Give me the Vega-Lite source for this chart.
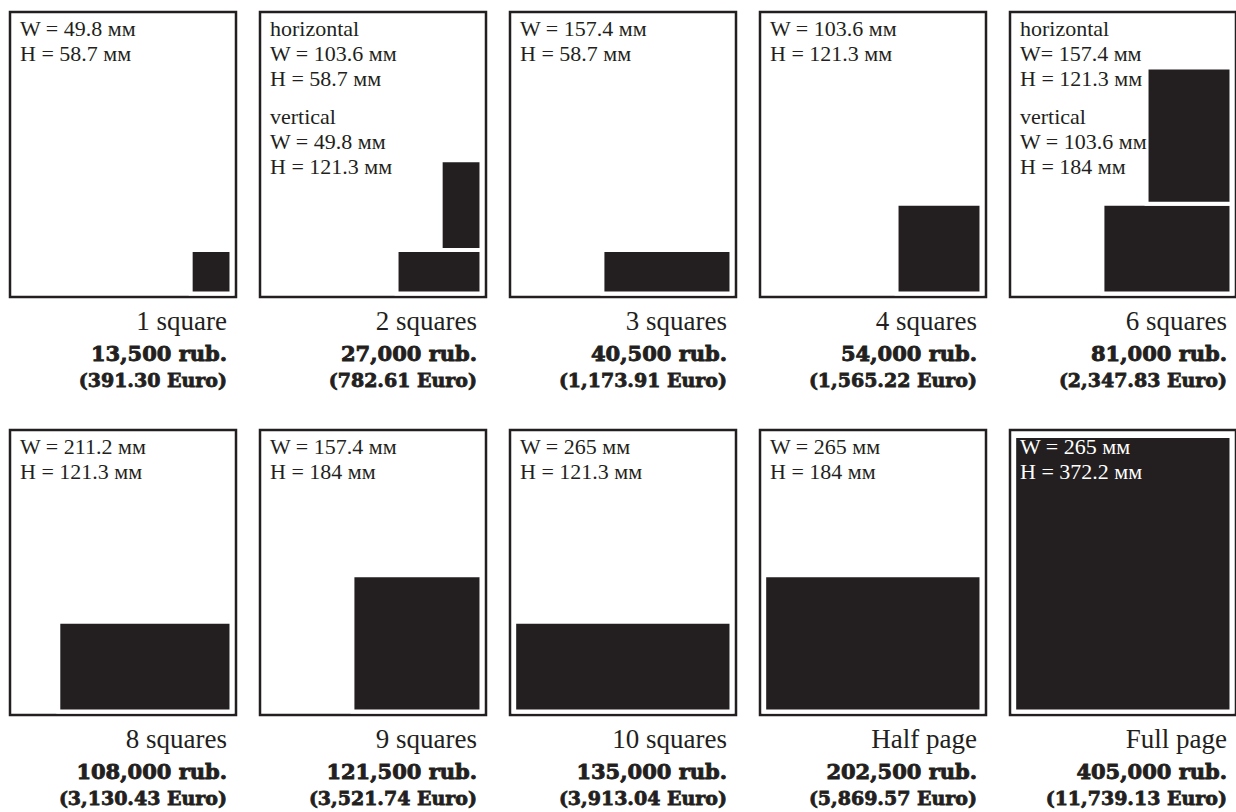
{
  "$schema": "https://vega.github.io/schema/vega-lite/v6.json",
  "padding": {"left": 8, "top": 10, "right": 0, "bottom": 0},
  "autosize": {"type": "pad"},
  "background": "white",
  "bounds": "flush",
  "spacing": {"column": 24, "row": 133},
  "columns": 5,
  "data": {"values": [
    {"panel": 1, "order": 1, "W": 49.8, "H": 58.7, "caption": "W = 49.8 мм\nH = 58.7 мм", "name": "1 square", "rub": "13,500 rub.", "euro": "(391.30 Euro)"},
    {"panel": 2, "order": 1, "W": 103.6, "H": 58.7, "caption": "horizontal\nW = 103.6 мм\nH = 58.7 мм", "name": "2 squares", "rub": "27,000 rub.", "euro": "(782.61 Euro)"},
    {"panel": 2, "order": 2, "W": 49.8, "H": 121.3, "caption": "vertical\nW = 49.8 мм\nH = 121.3 мм", "name": "2 squares", "rub": "27,000 rub.", "euro": "(782.61 Euro)"},
    {"panel": 3, "order": 1, "W": 157.4, "H": 58.7, "caption": "W = 157.4 мм\nH = 58.7 мм", "name": "3 squares", "rub": "40,500 rub.", "euro": "(1,173.91 Euro)"},
    {"panel": 4, "order": 1, "W": 103.6, "H": 121.3, "caption": "W = 103.6 мм\nH = 121.3 мм", "name": "4 squares", "rub": "54,000 rub.", "euro": "(1,565.22 Euro)"},
    {"panel": 5, "order": 1, "W": 157.4, "H": 121.3, "caption": "horizontal\nW= 157.4 мм\nH = 121.3 мм", "name": "6 squares", "rub": "81,000 rub.", "euro": "(2,347.83 Euro)"},
    {"panel": 5, "order": 2, "W": 103.6, "H": 184, "caption": "vertical\nW = 103.6 мм\nH = 184 мм", "name": "6 squares", "rub": "81,000 rub.", "euro": "(2,347.83 Euro)"},
    {"panel": 6, "order": 1, "W": 211.2, "H": 121.3, "caption": "W = 211.2 мм\nH = 121.3 мм", "name": "8 squares", "rub": "108,000 rub.", "euro": "(3,130.43 Euro)"},
    {"panel": 7, "order": 1, "W": 157.4, "H": 184, "caption": "W = 157.4 мм\nH = 184 мм", "name": "9 squares", "rub": "121,500 rub.", "euro": "(3,521.74 Euro)"},
    {"panel": 8, "order": 1, "W": 265, "H": 121.3, "caption": "W = 265 мм\nH = 121.3 мм", "name": "10 squares", "rub": "135,000 rub.", "euro": "(3,913.04 Euro)"},
    {"panel": 9, "order": 1, "W": 265, "H": 184, "caption": "W = 265 мм\nH = 184 мм", "name": "Half page", "rub": "202,500 rub.", "euro": "(5,869.57 Euro)"},
    {"panel": 10, "order": 1, "W": 265, "H": 372.2, "caption": "W = 265 мм\nH = 372.2 мм", "name": "Full page", "rub": "405,000 rub.", "euro": "(11,739.13 Euro)"}
  ]},
  "transform": [
    {"stack": "H", "groupby": ["panel"], "sort": [{"field": "order", "order": "ascending"}], "as": ["y0", "y1"]}
  ],
  "facet": {"field": "panel", "type": "ordinal", "header": {"title": null, "labels": false, "labelExpr": "''", "labelFontSize": 0, "labelPadding": 0, "titlePadding": 0}},
  "spec": {
    "width": 226,
    "height": 285,
    "layer": [
      {
        "mark": {"type": "rect", "fill": "#231f20", "stroke": "white", "strokeWidth": 4},
        "encoding": {
          "x": {"field": "W", "type": "quantitative", "scale": {"domain": [-5.5, 270.1], "reverse": true, "nice": false, "zero": false}, "axis": null},
          "x2": {"datum": 0},
          "y": {"field": "y0", "type": "quantitative", "scale": {"domain": [-4.7, 380.4], "nice": false, "zero": false}, "axis": null},
          "y2": {"field": "y1"}
        }
      },
      {
        "transform": [{"filter": "datum.order == 1"}],
        "mark": {"type": "text", "align": "left", "baseline": "alphabetic", "dx": 10, "dy": 24, "lineBreak": "\n", "lineHeight": 25, "font": "Liberation Serif", "fontSize": 22},
        "encoding": {
          "x": {"datum": 270.1, "type": "quantitative", "axis": null},
          "y": {"datum": 380.4, "type": "quantitative", "axis": null},
          "text": {"field": "caption"},
          "color": {"condition": {"test": "datum.H > 300", "value": "white"}, "value": "#231f20"}
        }
      },
      {
        "transform": [{"filter": "datum.order == 2"}],
        "mark": {"type": "text", "align": "left", "baseline": "alphabetic", "dx": 10, "dy": 112, "lineBreak": "\n", "lineHeight": 25, "font": "Liberation Serif", "fontSize": 22, "fill": "#231f20"},
        "encoding": {
          "x": {"datum": 270.1, "type": "quantitative", "axis": null},
          "y": {"datum": 380.4, "type": "quantitative", "axis": null},
          "text": {"field": "caption"}
        }
      },
      {
        "transform": [{"filter": "datum.order == 1"}],
        "mark": {"type": "text", "align": "right", "baseline": "alphabetic", "dx": -9, "dy": 33, "font": "Liberation Serif", "fontSize": 27, "fill": "#231f20"},
        "encoding": {
          "x": {"datum": -5.5, "type": "quantitative", "axis": null},
          "y": {"datum": -4.7, "type": "quantitative", "axis": null},
          "text": {"field": "name"}
        }
      },
      {
        "transform": [{"filter": "datum.order == 1"}],
        "mark": {"type": "text", "align": "right", "baseline": "alphabetic", "dx": -9, "dy": 64, "font": "DejaVu Serif", "fontWeight": "bold", "fontSize": 21, "fill": "#231f20", "stroke": "#231f20", "strokeWidth": 0.9},
        "encoding": {
          "x": {"datum": -5.5, "type": "quantitative", "axis": null},
          "y": {"datum": -4.7, "type": "quantitative", "axis": null},
          "text": {"field": "rub"}
        }
      },
      {
        "transform": [{"filter": "datum.order == 1"}],
        "mark": {"type": "text", "align": "right", "baseline": "alphabetic", "dx": -9, "dy": 90, "font": "DejaVu Serif", "fontWeight": "bold", "fontSize": 19, "fill": "#231f20", "stroke": "#231f20", "strokeWidth": 0.8},
        "encoding": {
          "x": {"datum": -5.5, "type": "quantitative", "axis": null},
          "y": {"datum": -4.7, "type": "quantitative", "axis": null},
          "text": {"field": "euro"}
        }
      }
    ]
  },
  "config": {
    "view": {"stroke": "#231f20", "strokeWidth": 2.5, "fill": "white"}
  }
}
